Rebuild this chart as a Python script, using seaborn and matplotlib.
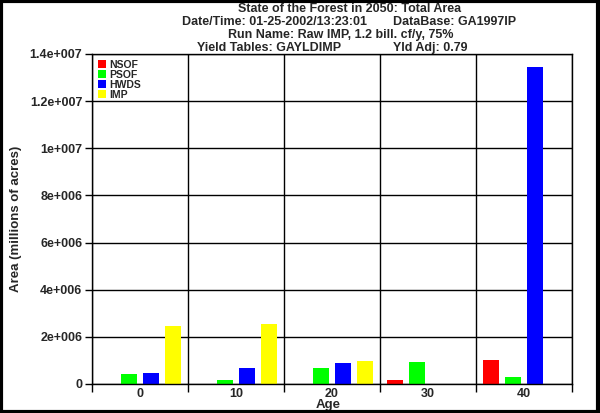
import pandas as pd
import seaborn as sns
import matplotlib.pyplot as plt
from matplotlib.patches import Rectangle
from matplotlib.ticker import FixedLocator, FuncFormatter

ages = ['0', '10', '20', '30', '40']
series = ['NSOF', 'PSOF', 'HWDS', 'IMP']
nsof = [0, 0, 0, 0.15e6, 1.03e6]
psof = [0.44e6, 0.19e6, 0.70e6, 0.95e6, 0.31e6]
hwds = [0.47e6, 0.70e6, 0.91e6, 0, 13.45e6]
imp = [2.44e6, 2.54e6, 0.99e6, 0, 0]
colors = ['#ff0000', '#00ff00', '#0000ff', '#ffff00']
yticks = [0, 2e6, 4e6, 6e6, 8e6, 1e7, 1.2e7, 1.4e7]

rows = []
for name, vals in zip(series, [nsof, psof, hwds, imp]):
    for a, v in zip(ages, vals):
        rows.append({'Age': a, 'Series': name, 'Area': v})
df = pd.DataFrame(rows)

sns.set_style('white')
plt.rcParams['font.family'] = ['Liberation Sans', 'DejaVu Sans']
plt.rcParams['font.weight'] = 'bold'

fig = plt.figure(figsize=(6, 4.13), dpi=100)
ax = fig.add_axes([92 / 600, 1 - 384 / 413, 480 / 600, 330 / 413])

sns.barplot(data=df, x='Age', y='Area', hue='Series', order=ages,
            hue_order=series, palette=colors, width=0.92, gap=0.27,
            linewidth=0, saturation=1, ax=ax)


def sci(v, pos):
    if v == 0:
        return '0'
    m, e = f'{v:e}'.split('e')
    m = f'{float(m):g}'
    sign = '+' if int(e) >= 0 else '-'
    return f'{m}e{sign}{abs(int(e)):03d}'


ax.set_xlim(-0.5, 4.5)
ax.set_ylim(0, 1.4e7)
ax.yaxis.set_major_locator(FixedLocator(yticks))
ax.yaxis.set_major_formatter(FuncFormatter(sci))
ax.xaxis.set_minor_locator(FixedLocator([-0.5, 0.5, 1.5, 2.5, 3.5, 4.5]))
ax.tick_params(axis='x', which='major', length=0, pad=3, labelsize=9)
ax.tick_params(axis='x', which='minor', length=6, width=1, color='black',
               bottom=True)
ax.tick_params(axis='y', length=5, width=1, color='black', left=True,
               labelsize=9, pad=2)
ax.grid(axis='y', which='major', color='black', linewidth=1)
ax.grid(axis='x', which='minor', color='black', linewidth=1)
ax.set_axisbelow(True)
for s in ax.spines.values():
    s.set_color('black')
    s.set_linewidth(1)

ax.set_xlabel('Age', fontsize=9.5, fontweight='bold', va='center')
ax.xaxis.set_label_coords(-4 / 480 + 0.5, -21 / 330)
ax.set_ylabel('Area (millions of acres)', fontsize=9.5, fontweight='bold')
ax.yaxis.set_label_coords(-70 / 480, 0.5)

leg = ax.legend(loc='upper left', frameon=False, fontsize=7.5,
                handlelength=0.8, handleheight=0.8, handletextpad=0.35,
                labelspacing=0.0, borderaxespad=0.3, borderpad=0.25)
for t in leg.get_texts():
    t.set_fontweight('bold')

kw = dict(fontsize=9, fontweight='bold', va='center')
fig.text(350 / 600, 1 - 9 / 413, 'State of the Forest in 2050: Total Area',
         ha='center', **kw)
fig.text(182 / 600, 1 - 22 / 413, 'Date/Time: 01-25-2002/13:23:01',
         ha='left', **kw)
fig.text(393 / 600, 1 - 22 / 413, 'DataBase: GA1997IP', ha='left', **kw)
fig.text(341 / 600, 1 - 35 / 413, 'Run Name: Raw IMP, 1.2 bill. cf/y, 75%',
         ha='center', **kw)
fig.text(197 / 600, 1 - 48 / 413, 'Yield Tables: GAYLDIMP', ha='left', **kw)
fig.text(393 / 600, 1 - 48 / 413, 'Yld Adj: 0.79', ha='left', **kw)

fig.patches.append(Rectangle((0.002, 0.003), 0.995, 0.994,
                             transform=fig.transFigure, fill=False,
                             edgecolor='black', linewidth=3))

fig.savefig('out.png', dpi=100, facecolor='white')
plt.close(fig)
